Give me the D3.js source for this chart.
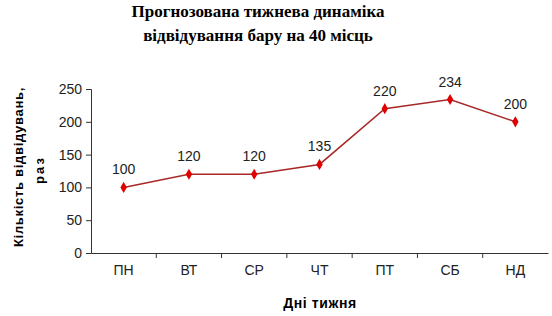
<!DOCTYPE html>
<html>
<head>
<meta charset="utf-8">
<script src="https://cdn.jsdelivr.net/npm/d3@7"></script>
<style>
  body { margin: 0; background: #fff; }
  text { font-family: "Liberation Sans", Arial, sans-serif; }
</style>
</head>
<body>
<svg width="552" height="316"></svg>
<script>
// chart data
var days = ["ПН", "ВТ", "СР", "ЧТ", "ПТ", "СБ", "НД"];
var visits = [100, 120, 120, 135, 220, 234, 200];
var yTicks = [0, 50, 100, 150, 200, 250];

var svg = d3.select('svg');
var padding = { t: 89, r: 4, b: 63, l: 91 };
var chartWidth = 552 - padding.l - padding.r;
var chartHeight = 316 - padding.t - padding.b;

var chartG = svg.append('g')
  .attr('transform', `translate(${padding.l}, ${padding.t})`);

var x = d3.scaleBand().domain(days).range([0, chartWidth]);
var y = d3.scaleLinear().domain([0, 250]).range([chartHeight, 0]);

// y axis
var yAxis = chartG.append('g')
  .call(d3.axisLeft(y).tickValues(yTicks).tickSize(5).tickPadding(4));
yAxis.select('.domain').attr('stroke', '#333');
yAxis.selectAll('line').attr('stroke', '#333');
yAxis.selectAll('text').attr('font-size', '14px').attr('fill', '#222')
  .attr('font-family', '"Liberation Sans", Arial, sans-serif');

// x axis with ticks at band borders
var xAxis = chartG.append('g')
  .attr('transform', `translate(0, ${chartHeight})`)
  .call(d3.axisBottom(x).tickSize(0).tickPadding(12));
xAxis.select('.domain').attr('stroke', '#333');
xAxis.selectAll('text').attr('font-size', '14px').attr('fill', '#222')
  .attr('font-family', '"Liberation Sans", Arial, sans-serif');
xAxis.selectAll('.border')
  .data(days.slice(1))
  .enter().append('line')
  .attr('class', 'border')
  .attr('x1', d => x(d)).attr('x2', d => x(d))
  .attr('y1', 0).attr('y2', 5)
  .attr('stroke', '#333');

// line
var line = d3.line()
  .x((d, i) => x(days[i]) + x.bandwidth() / 2)
  .y(d => y(d));

chartG.append('path')
  .datum(visits)
  .attr('d', line)
  .attr('fill', 'none')
  .attr('stroke', '#a82828')
  .attr('stroke-width', 1.5);

chartG.selectAll('.pt')
  .data(visits)
  .enter().append('path')
  .attr('class', 'pt')
  .attr('d', d3.symbol().type(d3.symbolDiamond).size(36))
  .attr('transform', (d, i) => `translate(${x(days[i]) + x.bandwidth() / 2}, ${y(d)})`)
  .attr('fill', '#e00000');

chartG.selectAll('.lbl')
  .data(visits)
  .enter().append('text')
  .attr('class', 'lbl')
  .attr('x', (d, i) => x(days[i]) + x.bandwidth() / 2)
  .attr('y', d => y(d) - 13)
  .attr('text-anchor', 'middle')
  .attr('font-size', '14px')
  .attr('fill', '#222')
  .text(d => d);

// title
svg.append('text')
  .attr('x', 258).attr('y', 17)
  .attr('text-anchor', 'middle')
  .style('font-family', '"Liberation Serif", "Times New Roman", serif')
  .style('font-weight', 'bold')
  .style('font-size', '17px')
  .text('Прогнозована тижнева динаміка');
svg.append('text')
  .attr('x', 258).attr('y', 41)
  .attr('text-anchor', 'middle')
  .style('font-family', '"Liberation Serif", "Times New Roman", serif')
  .style('font-weight', 'bold')
  .style('font-size', '17px')
  .text('відвідування бару на 40 місць');

// axis titles
svg.append('text')
  .attr('transform', 'translate(23, 167) rotate(-90)')
  .attr('text-anchor', 'middle')
  .style('font-weight', 'bold')
  .style('font-size', '13px')
  .style('letter-spacing', '0.7px')
  .text('Кількість відвідувань,');
svg.append('text')
  .attr('transform', 'translate(44, 170) rotate(-90)')
  .attr('text-anchor', 'middle')
  .style('font-weight', 'bold')
  .style('font-size', '13px')
  .style('letter-spacing', '2px')
  .text('раз');

svg.append('text')
  .attr('x', 320).attr('y', 308)
  .attr('text-anchor', 'middle')
  .style('font-weight', 'bold')
  .style('font-size', '14px')
  .style('letter-spacing', '0.6px')
  .text('Дні тижня');
</script>
</body>
</html>
